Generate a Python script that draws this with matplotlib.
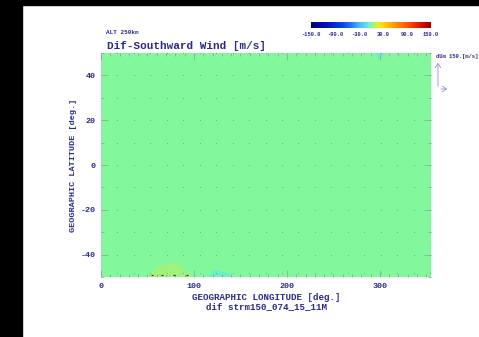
import numpy as np
import matplotlib
matplotlib.use("Agg")
import matplotlib.pyplot as plt
from matplotlib.colors import LinearSegmentedColormap, BoundaryNorm
from matplotlib.patches import Rectangle, FancyArrowPatch

plt.rcParams["axes.unicode_minus"] = False

# ---- data ----
lon_grid = [0, 20, 40, 60, 80, 100, 120, 140, 160, 180, 200, 220, 240, 260, 280, 300, 320, 340, 360]
lat_grid = [-50, -40, -30, -20, -10, 0, 10, 20, 30, 40, 50]
# (lon, lat, value) departures from ~0
anomalies = [(60, -50, 4.5), (80, -50, 6.5), (100, -50, 2),
             (120, -50, -4), (140, -50, -3), (300, 50, -4)]
vec_lon = [17.7, 35.4, 53.1, 70.8, 88.5, 106.2, 123.9, 141.6, 159.3, 177.0,
           194.7, 212.4, 230.1, 247.8, 265.5, 283.2, 300.9, 318.6, 336.3, 354.0]
vec_lat = [-48, -40, -30, -20, -10, 0, 10, 20, 30, 40, 50]
dark_vec_lon = [55, 66, 78, 92]
dark_vec_lat = [-49, -49, -49, -49]
cbar_ticks = [-150.0, -90.0, -30.0, 30.0, 90.0, 150.0]
x_ticks = [0, 100, 200, 300]
y_ticks = [-40, -20, 0, 20, 40]

field = np.zeros((len(lat_grid), len(lon_grid)))
for lo, la, v in anomalies:
    field[lat_grid.index(la), lon_grid.index(lo)] = v

# ---- style ----
txt = "#2a2a8c"
font = "Liberation Mono"
cmap = LinearSegmentedColormap.from_list("idl", [
    (0.00, "#00007a"), (0.12, "#0010b8"), (0.25, "#0040e8"), (0.33, "#2070ff"),
    (0.40, "#40b8ff"), (0.46, "#58e0e8"), (0.483, "#70f0c0"), (0.50, "#84f79a"),
    (0.517, "#a0f27c"), (0.56, "#e8f020"), (0.60, "#ffd800"), (0.68, "#ffa000"),
    (0.80, "#ff5800"), (0.92, "#d81000"), (1.00, "#900000")], N=512)
levels = np.arange(-152.5, 153, 5)
norm = BoundaryNorm(levels, cmap.N)

fig = plt.figure(figsize=(4.79, 3.37), dpi=100)
fig.patch.set_facecolor("white")
fig.patches.append(Rectangle((0, 0), 22/479, 1, transform=fig.transFigure, color="black", zorder=-5))
fig.patches.append(Rectangle((0, 1-5/337), 1, 5/337, transform=fig.transFigure, color="black", zorder=-5))

ax = fig.add_axes([101/479, 1-277/337, 330/479, 224/337])
ax.contourf(lon_grid, lat_grid, field, levels=levels, cmap=cmap, norm=norm, extend="both")
ax.scatter(vec_lon * len(vec_lat), [la for la in vec_lat for _ in vec_lon],
           s=0.5, color="#6aaa88", linewidths=0, zorder=3)
ax.scatter(dark_vec_lon, dark_vec_lat, s=3, marker="_", color="#303030", linewidths=0.8, zorder=3)
ax.set_xlim(0, 355)
ax.set_ylim(-50, 50)
ax.set_xticks(x_ticks)
ax.set_yticks(y_ticks)
ax.set_xticks(np.arange(0, 356, 10), minor=True)
ax.set_yticks(np.arange(-50, 51, 10), minor=True)
ax.tick_params(which="both", direction="in", top=True, right=True, color="#90a8a0",
               labelcolor=txt, labelsize=6, width=0.6)
ax.tick_params(which="major", length=5, pad=4)
ax.tick_params(which="minor", length=2.5)
for lab in ax.get_xticklabels() + ax.get_yticklabels():
    lab.set_fontfamily(font)
    lab.set_fontweight("bold")
for s in ax.spines.values():
    s.set_visible(False)
ax.set_xlabel("GEOGRAPHIC LONGITUDE [deg.]\ndif strm150_074_15_11M", fontfamily=font,
              fontweight="bold", fontsize=6.6, color=txt, labelpad=2.5, linespacing=1.0)
ax.set_ylabel("GEOGRAPHIC LATITUDE [deg.]", fontfamily=font, fontweight="bold",
              fontsize=6.1, color=txt, labelpad=2.5)

fig.text(107/479, 1-49/337, "Dif-Southward Wind [m/s]", fontfamily=font, fontweight="bold",
         fontsize=7.9, color=txt, va="baseline")
fig.text(106/479, 1-34/337, "ALT 250km", fontfamily=font, fontweight="bold",
         fontsize=4.3, color=txt, va="baseline")

cax = fig.add_axes([311/479, 1-28/337, 120/479, 6/337])
sm = matplotlib.cm.ScalarMappable(norm=matplotlib.colors.Normalize(-150, 150), cmap=cmap)
cb = fig.colorbar(sm, cax=cax, orientation="horizontal", ticks=cbar_ticks)
cb.outline.set_visible(False)
cax.tick_params(length=0, labelsize=3.9, labelcolor=txt, pad=3)
cax.set_xticklabels([f"{t:.1f}" for t in cbar_ticks], fontfamily=font, fontweight="bold")

fig.text(436/479, 1-58/337, "dUm 150.[m/s]", fontfamily=font, fontweight="bold",
         fontsize=4.0, color=txt, va="baseline")
ac = "#9090d8"
fig.add_artist(FancyArrowPatch((438/479, 1-89/337), (438/479, 1-60/337),
               transform=fig.transFigure, arrowstyle="->,head_length=3,head_width=2",
               color=ac, lw=0.6))
fig.add_artist(FancyArrowPatch((438/479, 1-89/337), (450/479, 1-89/337),
               transform=fig.transFigure, arrowstyle="->,head_length=3,head_width=2",
               color=ac, lw=0.6))

fig.savefig("out.png", dpi=100)
